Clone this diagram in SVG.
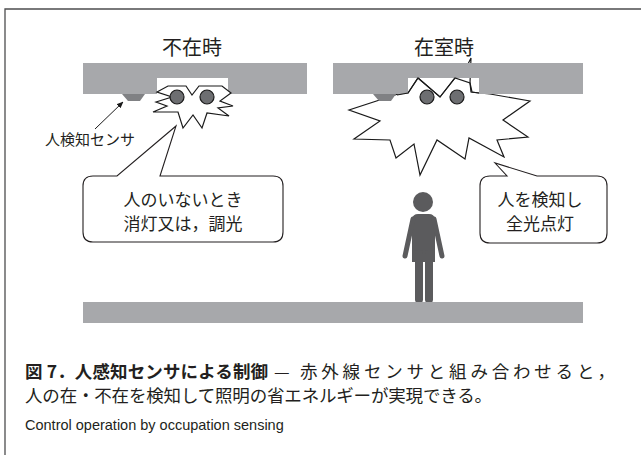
<svg xmlns="http://www.w3.org/2000/svg" width="641" height="455" viewBox="0 0 641 455">
  <defs>
    <style>
      .bar { fill: #a7a8ab; }
      .sensor { fill: #808184; }
      .burst { fill: #ffffff; stroke: #1a1a1a; stroke-width: 1.2; stroke-linejoin: miter; }
      .lamp { fill: #6d6e71; stroke: #1a1a1a; stroke-width: 1.2; }
      .callout { fill: #ffffff; stroke: #231f20; stroke-width: 1.1; }
      .lbl { font-family: "Noto Sans CJK JP", "Liberation Sans", sans-serif; fill: #231f20; }
      .head { font-size: 20px; text-anchor: middle; }
      .ct { font-size: 17px; text-anchor: middle; }
      .person { fill: #5b5b5d; }
      .cap { font-family: "Noto Sans CJK JP", sans-serif; font-size: 17.5px; fill: #231f20; }
      .capb { font-weight: bold; }
      .capen { font-family: "Liberation Sans", Arial, sans-serif; font-size: 14.5px; fill: #231f20; }
    </style>
    <marker id="arrow" viewBox="0 0 10 10" refX="9" refY="5" markerWidth="7" markerHeight="7" orient="auto">
      <path d="M0,1 L10,5 L0,9 Z" fill="#1a1a1a"/>
    </marker>
  </defs>

  <rect width="641" height="455" fill="#ffffff"/>
  <!-- frame (top and left rules) -->
  <path d="M5,455 V9 H641" fill="none" stroke="#4d4d4f" stroke-width="1.3"/>

  <!-- unoccupied state -->
  <g id="absent">
    <text class="lbl head" x="192" y="55">不在時</text>
    <path class="bar" d="M83,63 H307 V94 H228 V78 H157 V94 H83 Z"/>
    <path class="sensor" d="M122,94 H145 L140,101 H128 Z"/>
    <polygon class="burst" points="157,92 168,86 186,86 192,95 199,86 222,86 231,93 220,101 233,106 218,108 229,116 207,113 202,128 193,115 183,128 178,112 153,112 167,106 156,102 172,97"/>
    <circle class="lamp" cx="177" cy="97" r="7"/>
    <circle class="lamp" cx="207" cy="97" r="7"/>
  </g>

  <!-- occupied state -->
  <g id="present">
    <text class="lbl head" x="444" y="55">在室時</text>
    <polygon class="burst" points="398,94 349,110 380,121 354,139 390,140 396,158 414,144 420,175 437,140 465,159 469,138 504,157 497,140 528,137 503,120 530,101 490,94 479,93 472,92 470,83 471,58 468,64 455,78 440,97 418,78 408,93"/>
    <path class="bar" d="M333,63 H583 V94 H479 V78 H408 V94 H333 Z"/>
    <polyline points="397,95 408,93 418,78 440,97 455,78 470,83 471,92 479,93" fill="none" stroke="#1a1a1a" stroke-width="1.2"/>
    <path class="sensor" d="M373,94 H396 L391,101 H379 Z"/>
    <circle class="lamp" cx="427" cy="97" r="7"/>
    <circle class="lamp" cx="457" cy="97" r="7"/>
  </g>

  <!-- sensor label -->
  <g id="sensor-label">
    <text class="lbl" x="45" y="145" font-size="15">人検知センサ</text>
  </g>

  <!-- callouts -->
  <g id="callout-off">
    <path class="callout" d="M93,176 H117 L176,126 L160,176 H273 Q283,176 283,186 V232 Q283,242 273,242 H93 Q83,242 83,232 V186 Q83,176 93,176 Z"/>
    <text class="lbl ct" x="183" y="206">人のいないとき</text>
    <text class="lbl ct" x="183" y="230">消灯又は，調光</text>
  </g>
  <g id="callout-on">
    <path class="callout" d="M490,176 H507 L495,163 L537,176 H597 Q607,176 607,186 V233 Q607,243 597,243 H490 Q480,243 480,233 V186 Q480,176 490,176 Z"/>
    <text class="lbl ct" x="540" y="206">人を検知し</text>
    <text class="lbl ct" x="540" y="230">全光点灯</text>
  </g>

  <!-- person -->
  <g id="person" class="person">
    <circle cx="423" cy="202" r="10"/>
    <path d="M418,214 H429 Q434,214 435,219 V262 H412 V219 Q413,214 418,214 Z"/>
    <line x1="413" y1="219" x2="405" y2="256" stroke="#5b5b5d" stroke-width="5" stroke-linecap="round"/>
    <line x1="434" y1="219" x2="442" y2="256" stroke="#5b5b5d" stroke-width="5" stroke-linecap="round"/>
    <rect x="415" y="250" width="8" height="53" rx="3.5"/>
    <rect x="425" y="250" width="8" height="53" rx="3.5"/>
  </g>

  <!-- floor -->
  <g id="floor">
    <rect class="bar" x="83" y="302" width="500" height="21"/>
  </g>

  <!-- connectors -->
  <g id="connectors">
    <line x1="95" y1="129" x2="123" y2="102" stroke="#1a1a1a" stroke-width="1" marker-end="url(#arrow)"/>
  </g>

  <!-- caption -->
  <g id="caption">
    <text class="cap capb" x="25" y="378" textLength="243" lengthAdjust="spacing">図 7．人感知センサによる制御</text>
    <text class="cap" x="274" y="378">—</text>
    <text class="cap" x="300" y="378" textLength="315" lengthAdjust="spacing">赤外線センサと組み合わせると，</text>
    <text class="cap" x="25" y="402" textLength="467" lengthAdjust="spacing">人の在・不在を検知して照明の省エネルギーが実現できる。</text>
    <text class="capen" x="25" y="430">Control operation by occupation sensing</text>
  </g>
</svg>
